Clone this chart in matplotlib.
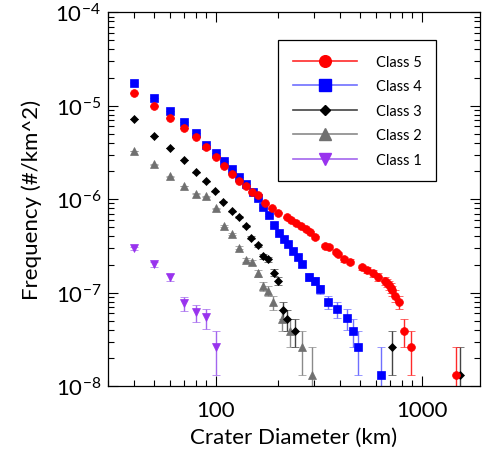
import numpy as np
import matplotlib.pyplot as plt
from matplotlib.lines import Line2D
from matplotlib.ticker import FuncFormatter, NullFormatter

plt.rcParams['font.family'] = ['Lato', 'DejaVu Sans']
plt.rcParams['mathtext.fontset'] = 'custom'
plt.rcParams['mathtext.rm'] = 'Lato'

# crater size-frequency data (D in km, frequency in #/km^2 per bin)
d5 = [40, 50, 60, 70, 80, 90, 100, 110, 120, 130, 140, 150, 160, 173, 187, 201, 221, 232,
      245, 259, 274, 288, 303, 341, 356, 383, 392, 419, 451, 511, 540, 578, 613, 667, 680,
      693, 707, 721, 741, 776, 820, 884, 1463]
f5 = [1.38e-5, 1.0e-5, 7.4e-6, 5.8e-6, 4.6e-6, 3.6e-6, 2.8e-6, 2.27e-6, 1.85e-6, 1.58e-6,
      1.37e-6, 1.2e-6, 1.1e-6, 9.06e-7, 8.01e-7, 7.17e-7, 6.37e-7, 6.04e-7, 5.61e-7, 5.21e-7,
      4.84e-7, 4.44e-7, 3.92e-7, 3.18e-7, 3.07e-7, 2.71e-7, 2.58e-7, 2.28e-7, 2.15e-7, 1.86e-7,
      1.74e-7, 1.62e-7, 1.48e-7, 1.34e-7, 1.27e-7, 1.20e-7, 1.13e-7, 1.06e-7, 9.3e-8, 7.97e-8,
      3.93e-8, 2.62e-8, 1.31e-8]

d4 = [40, 50, 60, 70, 80, 90, 100, 110, 120, 130, 140, 151, 160, 170, 181, 191, 202, 214,
      224, 237, 251, 261, 283, 303, 320, 349, 389, 432, 464, 492, 633]
f4 = [1.77e-5, 1.20e-5, 8.8e-6, 6.71e-6, 5.08e-6, 3.81e-6, 3.10e-6, 2.55e-6, 2.09e-6, 1.73e-6,
      1.45e-6, 1.20e-6, 1.02e-6, 8.15e-7, 6.75e-7, 5.27e-7, 4.33e-7, 3.78e-7, 3.33e-7, 2.78e-7,
      2.38e-7, 2.02e-7, 1.48e-7, 1.34e-7, 1.09e-7, 7.97e-8, 6.66e-8, 5.33e-8, 3.93e-8, 2.62e-8,
      1.31e-8]

d3 = [40, 50, 60, 70, 80, 90, 99, 109, 120, 130, 141, 149, 161, 170, 179, 191, 201, 212,
      221, 242, 714, 1535]
f3 = [7.22e-6, 4.75e-6, 3.54e-6, 2.63e-6, 1.94e-6, 1.55e-6, 1.21e-6, 9.36e-7, 7.39e-7, 6.47e-7,
      5.18e-7, 3.89e-7, 3.20e-7, 2.44e-7, 2.28e-7, 1.64e-7, 1.34e-7, 6.55e-8, 5.24e-8, 3.93e-8,
      2.62e-8, 1.31e-8]

d2 = [40, 50, 60, 70, 80, 90, 100, 110, 120, 130, 140, 150, 160, 170, 180, 190, 210, 229,
      261, 292]
f2 = [3.29e-6, 2.35e-6, 1.76e-6, 1.38e-6, 1.15e-6, 1.07e-6, 8.01e-7, 5.18e-7, 4.25e-7, 3.04e-7,
      2.24e-7, 2.13e-7, 1.62e-7, 1.18e-7, 1.05e-7, 7.9e-8, 5.24e-8, 3.93e-8, 2.62e-8, 1.31e-8]

d1 = [40, 50, 60, 70, 80, 90, 100]
f1 = [2.97e-7, 2.02e-7, 1.47e-7, 7.66e-8, 6.14e-8, 5.43e-8, 2.62e-8]

# one crater per bin
count_unit = 1.31e-8

# name, x, y, marker, color, line/errorbar color, plot marker size, legend marker size
series = [
    ('Class 5', d5, f5, 'o', '#ff0000', '#ff2a2a', 5.6, 8.4),
    ('Class 4', d4, f4, 's', '#0000ff', '#6f6fff', 5.4, 8.0),
    ('Class 3', d3, f3, 'D', '#000000', '#444444', 3.9, 5.0),
    ('Class 2', d2, f2, '^', '#707070', '#8a8a8a', 6.0, 8.0),
    ('Class 1', d1, f1, 'v', '#9933ee', '#a366ee', 6.0, 8.0),
]

fig = plt.figure(figsize=(4.82, 4.56), dpi=100)
ax = fig.add_axes([0.224, 0.151, 0.772, 0.82])
ax.set_xscale('log')
ax.set_yscale('log')

handles = []
for name, d, f, m, c, lc, ms, lms in series[::-1]:
    ax.errorbar(d, f, yerr=count_unit, fmt=m, color=c, ms=ms, mec=c, mew=0.5,
                ecolor=lc, elinewidth=1.0, capsize=3.0, capthick=1.0)
for name, d, f, m, c, lc, ms, lms in series:
    handles.append(Line2D([], [], color=lc, lw=1.2, marker=m, mfc=c, mec=c,
                          ms=lms, label=name))

ax.set_xlim(30, 1920)
ax.set_ylim(1e-8, 1e-4)
ax.xaxis.set_major_formatter(FuncFormatter(lambda v, p: '%d' % round(v)))
ax.xaxis.set_minor_formatter(NullFormatter())
ax.tick_params(which='both', direction='in', top=True, right=True, width=0.8)
ax.tick_params(which='major', length=7)
ax.tick_params(which='minor', length=4)
ax.tick_params(axis='x', labelsize=16, pad=10)
ax.tick_params(axis='y', labelsize=16, pad=5)
for s in ax.spines.values():
    s.set_linewidth(0.9)

ax.set_xlabel('Crater Diameter (km)', fontsize=16, labelpad=5)
ax.set_ylabel('Frequency (#/km^2)', fontsize=16, labelpad=10)

leg = ax.legend(handles=handles, loc='upper left', bbox_to_anchor=(0.457, 0.925),
                borderaxespad=0, fontsize=10.5, handlelength=4.4, handletextpad=1.3,
                labelspacing=0.72, borderpad=1.0, fancybox=False, framealpha=1)
leg.get_frame().set_edgecolor('black')
leg.get_frame().set_linewidth(0.9)

fig.savefig('out.png', dpi=100)
